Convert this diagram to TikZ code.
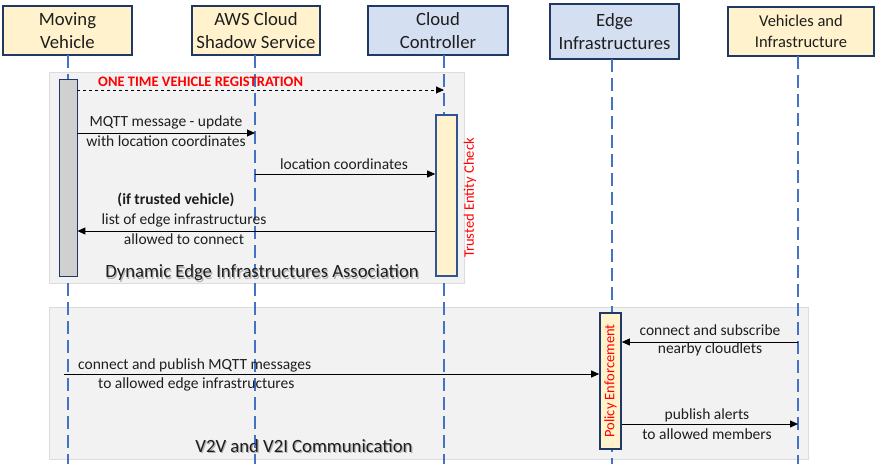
\documentclass[tikz,border=0pt]{standalone}
\usepackage{fontspec}
\setmainfont{Carlito}
\usetikzlibrary{arrows.meta}
\definecolor{hdryellow}{HTML}{FFF2CC}
\definecolor{hdrblue}{HTML}{D5DFF2}
\definecolor{navy}{HTML}{203864}
\definecolor{barblue}{HTML}{2F5597}
\definecolor{lifeblue}{HTML}{4472C4}
\definecolor{grpgray}{HTML}{F2F2F2}
\definecolor{grpborder}{HTML}{DCDCDC}
\definecolor{bargray}{HTML}{D0D0D0}
\definecolor{txt}{HTML}{1E1E1E}
\definecolor{redtxt}{HTML}{FF0000}
\begin{document}
\begin{tikzpicture}[x=1pt,y=-1pt,
  hdr/.style={draw=navy,line width=1.6pt,align=center,inner sep=0pt,
    font=\fontsize{18.7}{23}\selectfont,text=txt,minimum height=49pt},
  lifeline/.style={draw=lifeblue,line width=1.6pt,dash pattern=on 13pt off 6pt},
  grp/.style={fill=grpgray,draw=grpborder,line width=0.8pt},
  msg/.style={draw=black,line width=0.9pt,-{Triangle[length=8pt,width=7pt]}},
  lbl/.style={font=\fontsize{15.5}{19}\selectfont,text=txt,inner sep=0pt},
  ttl/.style={font=\fontsize{18.7}{22}\selectfont,text=txt,inner sep=0pt},
  ttlshadow/.style={font=\fontsize{18.7}{22}\selectfont,text=black!30,inner sep=0pt},
  rlbl/.style={font=\fontsize{14.5}{17}\selectfont,text=redtxt,rotate=90,inner sep=0pt}
]
\useasboundingbox (0,0) rectangle (878,464);
\fill[white] (0,0) rectangle (878,464);

% group frames
\draw[grp] (49,72) rectangle (464,283);
\draw[grp] (49,307) rectangle (808,459);

% headers
\node[hdr,fill=hdryellow,minimum width=129pt] (mv) at (67.5,30.5) {Moving\\Vehicle};
\node[hdr,fill=hdryellow,minimum width=128pt] (aws) at (256,30.5) {AWS Cloud\\Shadow Service};
\node[hdr,fill=hdrblue,minimum width=140pt] (cc) at (438,30.5) {Cloud\\Controller};
\node[hdr,fill=hdrblue,minimum width=129pt,minimum height=55pt] (ei) at (614.5,31.5) {Edge\\Infrastructures};
\node[hdr,fill=hdryellow,minimum width=146pt,font=\fontsize{16.5}{21}\selectfont] (vi) at (801,31.5) {Vehicles and\\Infrastructure};

% lifeline coordinates
\coordinate (mvT) at (68,55);   \coordinate (mvB) at (68,464);
\coordinate (awsT) at (255,55); \coordinate (awsB) at (255,464);
\coordinate (ccT) at (444,55);  \coordinate (ccB) at (444,464);
\coordinate (eiT) at (612,59);  \coordinate (eiB) at (612,464);
\coordinate (viT) at (798,56);  \coordinate (viB) at (798,464);

\draw[lifeline] (mvT) -- (mvB);
\draw[lifeline] (awsT) -- (awsB);
\draw[lifeline] (ccT) -- (ccB);
\draw[lifeline] (eiT) -- (eiB);
\draw[lifeline] (viT) -- (viB);

% activation bars
\node[draw=navy,line width=0.8pt,fill=bargray,minimum width=18pt,minimum height=197pt,inner sep=0pt] (mvAct) at (68,177.5) {};
\node[draw=barblue,line width=1.6pt,fill=hdryellow,minimum width=21pt,minimum height=161pt,inner sep=0pt] (ccAct) at (446.5,195.5) {};
\node[draw=navy,line width=1.6pt,fill=hdryellow,minimum width=21pt,minimum height=136pt,inner sep=0pt] (peAct) at (610.5,381) {};
\node[rlbl] at (peAct.center) {Policy Enforcement};
\node[rlbl] (tec) at (470,198) {Trusted Entity Check};

% message anchors
\coordinate (m1) at (0,90);
\coordinate (m2) at (0,133);
\coordinate (m3) at (0,174);
\coordinate (m4) at (0,231);
\coordinate (m5) at (0,374);
\coordinate (m6) at (0,342);
\coordinate (m7) at (0,424);
\coordinate (m5s) at (64,374);

% messages
\draw[msg,dashed] (mvAct.east |- m1) -- (ccT |- m1);
\node[font=\bfseries\fontsize{14.5}{17}\selectfont,text=redtxt,anchor=west,inner sep=0pt] at (98,82) {ONE TIME VEHICLE REGISTRATION};

\draw[msg] (mvAct.east |- m2) -- (awsT |- m2);
\node[lbl] at (166,122) {MQTT message - update};
\node[lbl] at (166,141) {with location coordinates};

\draw[msg] (awsT |- m3) -- (ccAct.west |- m3);
\node[lbl] at (344,164) {location coordinates};

\draw[msg] (ccAct.west |- m4) -- (mvAct.east |- m4);
\node[lbl,font=\bfseries\fontsize{15.5}{19}\selectfont] at (176,200) {(if trusted vehicle)};
\node[lbl] at (184,220) {list of edge infrastructures};
\node[lbl] at (184,239) {allowed to connect};

\node[ttlshadow] at (263.2,274.2) {Dynamic Edge Infrastructures Association};
\node[ttl] (t1) at (262,273) {Dynamic Edge Infrastructures Association};

\draw[msg] (m5s) -- (peAct.west |- m5);
\node[lbl,anchor=west] at (78,365) {connect and publish MQTT messages};
\node[lbl,anchor=west] at (98,384) {to allowed edge infrastructures};

\draw[msg] (viT |- m6) -- (peAct.east |- m6);
\node[lbl] at (710,330) {connect and subscribe};
\node[lbl] at (710,349) {nearby cloudlets};

\draw[msg] (peAct.east |- m7) -- (viT |- m7);
\node[lbl] at (707,415) {publish alerts};
\node[lbl] at (707,434) {to allowed members};

\node[ttlshadow] at (305.2,447.2) {V2V and V2I Communication};
\node[ttl] (t2) at (304,446) {V2V and V2I Communication};
\end{tikzpicture}
\end{document}
